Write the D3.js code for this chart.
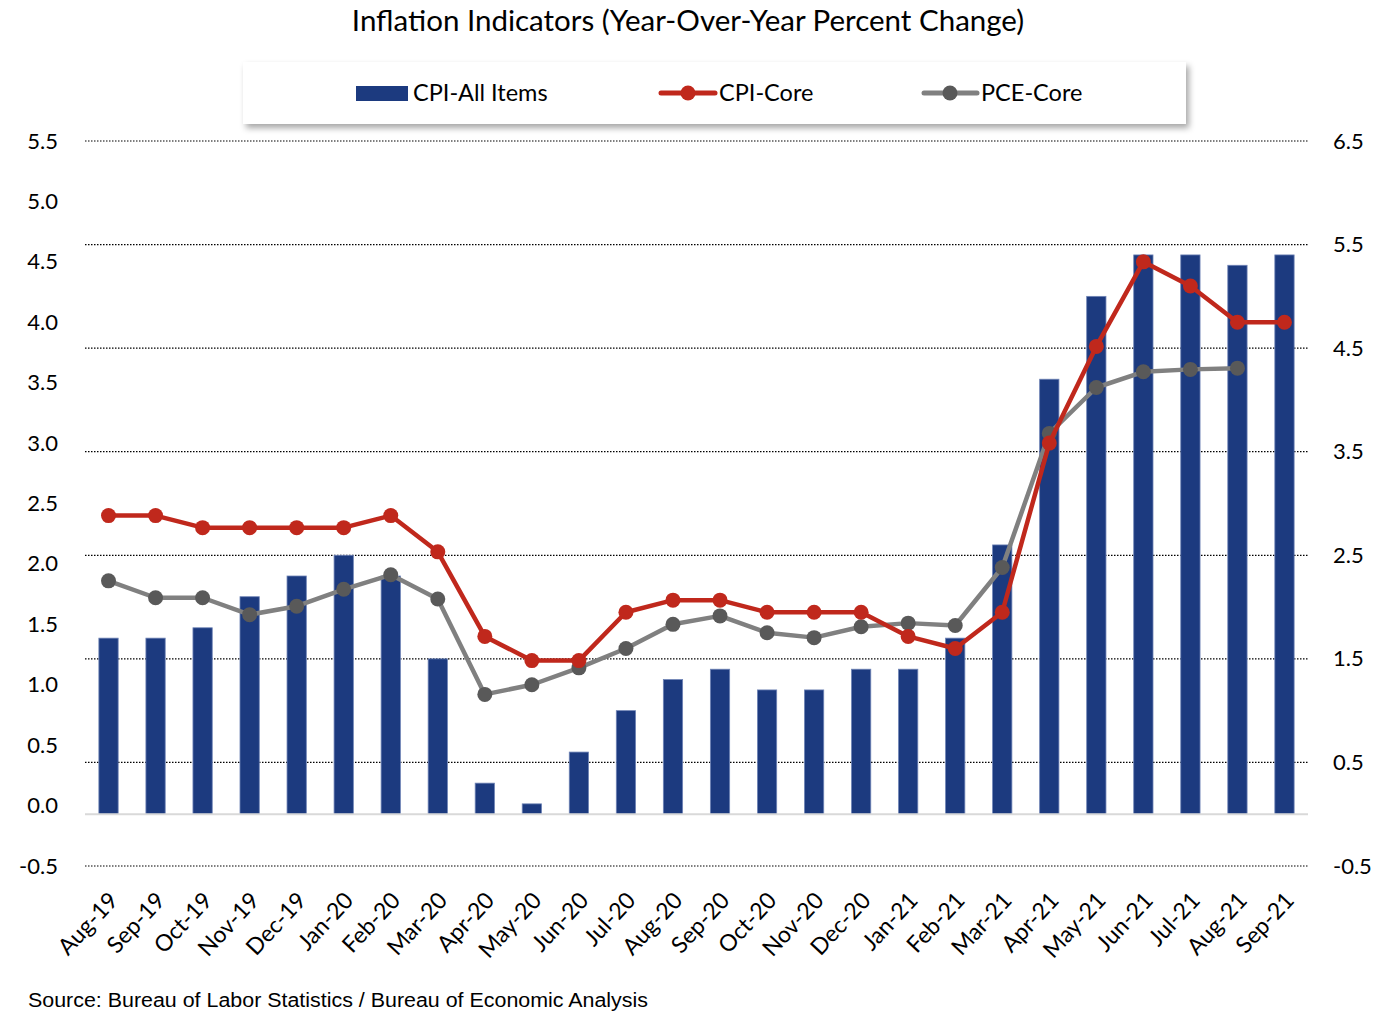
<!DOCTYPE html>
<html><head><meta charset="utf-8">
<script src="https://cdn.jsdelivr.net/npm/d3@7"></script>
<style>body{margin:0;background:#fff;} svg{display:block;}</style>
</head><body>
<svg id="c" width="1377" height="1011"></svg>
<script>
const categories = ["Aug-19","Sep-19","Oct-19","Nov-19","Dec-19","Jan-20","Feb-20","Mar-20","Apr-20","May-20","Jun-20","Jul-20","Aug-20","Sep-20","Oct-20","Nov-20","Dec-20","Jan-21","Feb-21","Mar-21","Apr-21","May-21","Jun-21","Jul-21","Aug-21","Sep-21"];
const cpiAll = [1.7,1.7,1.8,2.1,2.3,2.5,2.3,1.5,0.3,0.1,0.6,1.0,1.3,1.4,1.2,1.2,1.4,1.4,1.7,2.6,4.2,5.0,5.4,5.4,5.3,5.4];
const cpiCore = [2.4,2.4,2.3,2.3,2.3,2.3,2.4,2.1,1.4,1.2,1.2,1.6,1.7,1.7,1.6,1.6,1.6,1.4,1.3,1.6,3.0,3.8,4.5,4.3,4.0,4.0];
const pceCore = [1.86,1.72,1.72,1.58,1.65,1.79,1.91,1.71,0.92,1.0,1.14,1.30,1.50,1.57,1.43,1.39,1.48,1.51,1.49,1.97,3.08,3.46,3.59,3.61,3.62,null];
const leftTicks = [-0.5,0,0.5,1,1.5,2,2.5,3,3.5,4,4.5,5,5.5];
const rightTicks = [-0.5,0.5,1.5,2.5,3.5,4.5,5.5,6.5];
const title = "Inflation Indicators (Year-Over-Year Percent Change)";
const source = "Source: Bureau of Labor Statistics / Bureau of Economic Analysis";

const FONT = "Lato, 'Noto Sans', sans-serif";
const fmt = d => d3.format(".1f")(d).replace("\u2212","-");
const svg = d3.select("#c");
const x = d3.scaleBand().domain(categories).range([85,1308]).padding(0);
const yL = d3.scaleLinear().domain([-0.5,5.5]).range([866,141]);
const yR = d3.scaleLinear().domain([-0.5,6.5]).range([866,141]);

const defs = svg.append("defs");
const f = defs.append("filter").attr("id","sh").attr("x","-5%").attr("y","-20%").attr("width","115%").attr("height","160%");
f.append("feDropShadow").attr("dx",3).attr("dy",4).attr("stdDeviation",3).attr("flood-color","#000").attr("flood-opacity",0.35);

// title
svg.append("text").attr("x",688).attr("y",31).attr("text-anchor","middle")
  .style("font-family",FONT).style("font-size","29.5px").attr("fill","#000").text(title);

// gridlines (right axis)
svg.append("g").selectAll("line").data(rightTicks).join("line")
  .attr("x1",85).attr("x2",1308).attr("y1",d=>yR(d)).attr("y2",d=>yR(d))
  .attr("stroke","#000").attr("stroke-width",1.2).attr("stroke-dasharray","1.5,1.5");

// left axis labels
const axL = svg.append("g").attr("transform","translate(85,0)")
  .call(d3.axisLeft(yL).tickValues(leftTicks).tickFormat(fmt).tickSize(0).tickPadding(27));
axL.select(".domain").remove();
axL.selectAll("text").style("font-family",FONT).style("font-size","22px").attr("fill","#000");

const axR = svg.append("g").attr("transform","translate(1308,0)")
  .call(d3.axisRight(yR).tickValues(rightTicks).tickFormat(fmt).tickSize(0).tickPadding(25));
axR.select(".domain").remove();
axR.selectAll("text").style("font-family",FONT).style("font-size","22px").attr("fill","#000");

// bars
const bw = x.step()*0.41;
svg.append("g").selectAll("rect").data(cpiAll).join("rect")
  .attr("x",(d,i)=>x(categories[i])+x.bandwidth()/2-bw/2)
  .attr("width",bw)
  .attr("y",d=>yR(d)).attr("height",d=>yR(0)-yR(d))
  .attr("fill","#1c3a7f").attr("stroke","#6f84b6").attr("stroke-width",0.8);

// x axis line
svg.append("line").attr("x1",85).attr("x2",1308).attr("y1",yR(0)).attr("y2",yR(0))
  .attr("stroke","#d9d9d9").attr("stroke-width",2);

// x labels
const axX = svg.append("g").attr("transform","translate(0,880)")
  .call(d3.axisBottom(x).tickSize(0).tickPadding(0));
axX.select(".domain").remove();
axX.selectAll("text").style("font-family",FONT).style("font-size","23px").attr("fill","#000")
  .attr("text-anchor","end").attr("dy","0.35em")
  .attr("transform","translate(5,16) rotate(-47)");

// lines
const cx = c => x(c)+x.bandwidth()/2;
function drawLine(vals, color, mcolor, w){
  const pts = vals.map((v,i)=>({c:categories[i],v})).filter(p=>p.v!=null);
  svg.append("path").datum(pts)
    .attr("d",d3.line().x(p=>cx(p.c)).y(p=>yL(p.v)))
    .attr("fill","none").attr("stroke",color).attr("stroke-width",w).attr("stroke-linejoin","round");
  svg.append("g").selectAll("circle").data(pts).join("circle")
    .attr("cx",p=>cx(p.c)).attr("cy",p=>yL(p.v)).attr("r",7.5).attr("fill",mcolor);
}
drawLine(pceCore,"#808080","#595959",4.5);
drawLine(cpiCore,"#c0281c","#c0281c",4.5);

// legend
const lg = svg.append("g");
lg.append("rect").attr("x",243).attr("y",62).attr("width",943).attr("height",62)
  .attr("fill","#fff").attr("filter","url(#sh)");
lg.append("rect").attr("x",356).attr("y",86).attr("width",52).attr("height",15).attr("fill","#1c3a7f");
lg.append("text").attr("x",413).attr("y",101).style("font-family",FONT).style("font-size","23.5px").text("CPI-All Items");
lg.append("line").attr("x1",661).attr("x2",715).attr("y1",93).attr("y2",93).attr("stroke","#c0281c").attr("stroke-width",5).attr("stroke-linecap","round");
lg.append("circle").attr("cx",688).attr("cy",93).attr("r",7.5).attr("fill","#c0281c");
lg.append("text").attr("x",719).attr("y",101).style("font-family",FONT).style("font-size","23.5px").text("CPI-Core");
lg.append("line").attr("x1",924).attr("x2",977).attr("y1",93).attr("y2",93).attr("stroke","#808080").attr("stroke-width",5).attr("stroke-linecap","round");
lg.append("circle").attr("cx",950).attr("cy",93).attr("r",7.5).attr("fill","#595959");
lg.append("text").attr("x",981).attr("y",101).style("font-family",FONT).style("font-size","23.5px").text("PCE-Core");

// source
svg.append("text").attr("x",28).attr("y",1007).style("font-family","'Liberation Sans', Arial, sans-serif")
  .style("font-size","20px").attr("fill","#000")
  .attr("textLength",620).attr("lengthAdjust","spacingAndGlyphs").text(source);
</script>
</body></html>
